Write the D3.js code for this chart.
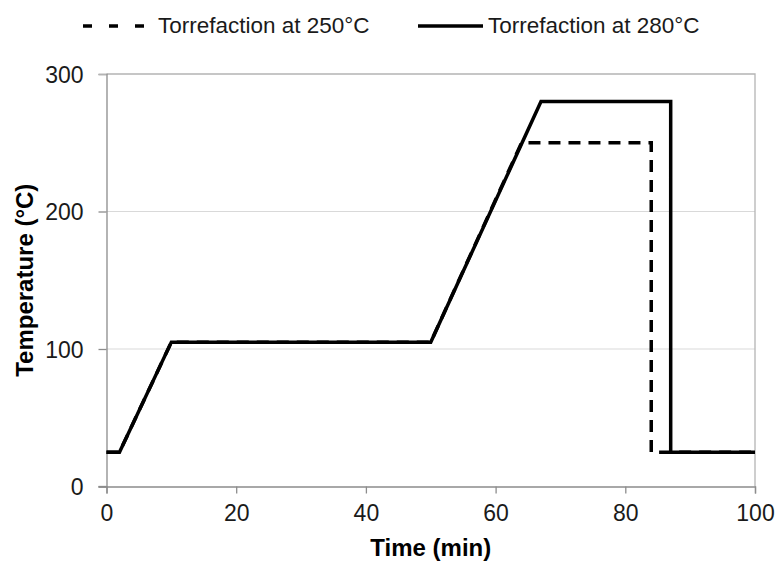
<!DOCTYPE html>
<html><head><meta charset="utf-8">
<script src="https://cdn.jsdelivr.net/npm/d3@7"></script>
<style>
html,body{margin:0;padding:0;background:#fff;}
svg{display:block;font-family:"Liberation Sans",Arial,sans-serif;}
</style></head>
<body><svg id="c" width="776" height="564"></svg>
<script>
const seriesNames = ["Torrefaction at 250°C", "Torrefaction at 280°C"];
const time250 = [0, 2, 10, 50, 64, 84, 84, 100];
const temp250 = [25, 25, 105, 105, 250, 250, 25, 25];
const time280 = [0, 2, 10, 50, 67, 87, 87, 100];
const temp280 = [25, 25, 105, 105, 280, 280, 25, 25];
const xTicks = [0, 20, 40, 60, 80, 100];
const yTicks = [0, 100, 200, 300];
const xTitle = "Time (min)";
const yTitle = "Temperature (°C)";

const svg = d3.select("#c");
const x = d3.scaleLinear().domain([0, 100]).range([106.5, 755]);
const y = d3.scaleLinear().domain([0, 300]).range([486.5, 74]);

// gridlines
svg.append("g").selectAll("line").data(yTicks.filter(d => d > 0 && d < 300)).join("line")
  .attr("x1", x(0)).attr("x2", x(100)).attr("y1", d => y(d)).attr("y2", d => y(d))
  .attr("stroke", "#d9d9d9").attr("stroke-width", 1);
// top and right border
svg.append("path")
  .attr("d", `M${x(0)},${y(300)}H${x(100)}V${y(0)}`)
  .attr("fill", "none").attr("stroke", "#b4b4b4").attr("stroke-width", 1.3);

// axes
const yAxis = svg.append("g").attr("transform", `translate(${x(0)},0)`)
  .call(d3.axisLeft(y).tickValues(yTicks).tickSize(8).tickPadding(15).tickFormat(d3.format("d")));
const xAxis = svg.append("g").attr("transform", `translate(0,${y(0)})`)
  .call(d3.axisBottom(x).tickValues(xTicks).tickSize(7).tickPadding(11).tickFormat(d3.format("d")));
[xAxis, yAxis].forEach(g => {
  g.select(".domain").attr("stroke", "#8c8c8c").attr("stroke-width", 1.3);
  g.selectAll(".tick line").attr("stroke", "#8c8c8c").attr("stroke-width", 1.3);
  g.selectAll(".tick text").attr("fill", "#1a1a1a").style("font-size", "23px")
    .style("font-family", "'Liberation Sans',Arial,sans-serif");
});
// extend x-axis line left to y tick length
svg.append("line").attr("x1", x(0) - 8).attr("x2", x(0)).attr("y1", y(0)).attr("y2", y(0))
  .attr("stroke", "#8c8c8c").attr("stroke-width", 1.3);
yAxis.selectAll(".tick text").attr("dy", "0.36em");
yAxis.selectAll(".tick line").filter(d => d === 300).attr("stroke", "#b4b4b4");

// lines
const line = d3.line().x(d => x(d[0])).y(d => y(d[1]));
const d250 = time250.map((t, i) => [t, temp250[i]]);
const d280 = time280.map((t, i) => [t, temp280[i]]);
svg.append("path").datum(d250).attr("d", line)
  .attr("fill", "none").attr("stroke", "#000").attr("stroke-width", 3.5)
  .attr("stroke-dasharray", "12,8").attr("stroke-linejoin", "miter");
svg.append("path").datum(d280).attr("d", line)
  .attr("fill", "none").attr("stroke", "#000").attr("stroke-width", 3.5)
  .attr("stroke-linejoin", "miter");

// axis titles
svg.append("text").attr("x", (x(0) + x(100)) / 2).attr("y", 556)
  .attr("text-anchor", "middle").style("font-size", "24px").style("font-weight", "bold")
  .attr("fill", "#000").text(xTitle);
svg.append("text").attr("transform", `translate(33,${(y(0) + y(300)) / 2}) rotate(-90)`)
  .attr("text-anchor", "middle").style("font-size", "24px").style("font-weight", "bold")
  .attr("fill", "#000").text(yTitle);

// legend
const leg = [
  {name: seriesNames[0], x1: 83, x2: 145, tx: 158, dash: "9,17"},
  {name: seriesNames[1], x1: 418, x2: 483, tx: 488, dash: null}
];
leg.forEach(l => {
  svg.append("line").attr("x1", l.x1).attr("x2", l.x2).attr("y1", 26).attr("y2", 26)
    .attr("stroke", "#000").attr("stroke-width", 3.5)
    .attr("stroke-dasharray", l.dash);
  svg.append("text").attr("x", l.tx).attr("y", 33).style("font-size", "22.5px")
    .attr("fill", "#1a1a1a").text(l.name);
});
</script></body></html>
